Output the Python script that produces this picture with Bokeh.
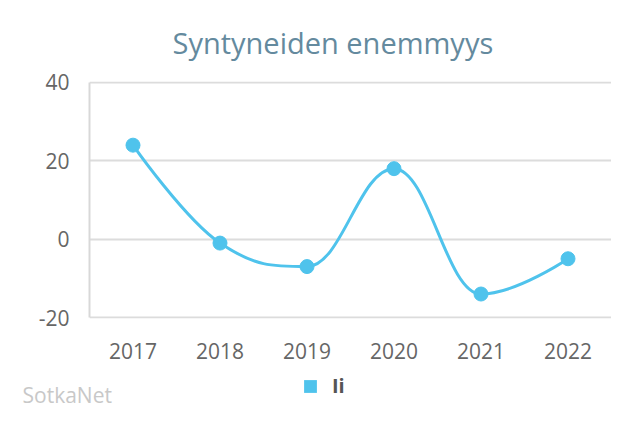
from bokeh.plotting import figure
from bokeh.layouts import column
from bokeh.models import Range1d, FixedTicker, Label, Legend, LegendItem
from bokeh.embed import file_html
from bokeh.resources import INLINE

years = ["2017", "2018", "2019", "2020", "2021", "2022"]
values = [24, -1, -7, 18, -14, -5]
y_ticks = [-20, 0, 20, 40]
series_name = "Ii"
title_text = "Syntyneiden enemmyys"
credit_text = "SotkaNet"

LINE = "#4fc3ec"
FONT = "Open Sans"

xs = list(range(len(years)))


def spline_controls(x, y, smoothing=1.5):
    denom = smoothing + 1
    n = len(x)
    rc = [None] * n
    lc = [None] * n
    for i in range(1, n - 1):
        px, py = x[i], y[i]
        lx, ly = x[i - 1], y[i - 1]
        nx, ny = x[i + 1], y[i + 1]
        lcx = (smoothing * px + lx) / denom
        lcy = (smoothing * py + ly) / denom
        rcx = (smoothing * px + nx) / denom
        rcy = (smoothing * py + ny) / denom
        corr = 0
        if rcx != lcx:
            corr = (rcy - lcy) * (rcx - px) / (rcx - lcx) + py - rcy
        lcy += corr
        rcy += corr
        if lcy > ly and lcy > py:
            lcy = max(ly, py); rcy = 2 * py - lcy
        elif lcy < ly and lcy < py:
            lcy = min(ly, py); rcy = 2 * py - lcy
        if rcy > ny and rcy > py:
            rcy = max(ny, py); lcy = 2 * py - rcy
        elif rcy < ny and rcy < py:
            rcy = min(ny, py); lcy = 2 * py - rcy
        lc[i] = (lcx, lcy)
        rc[i] = (rcx, rcy)
    segs = dict(x0=[], y0=[], x1=[], y1=[], cx0=[], cy0=[], cx1=[], cy1=[])
    for i in range(1, n):
        a = rc[i - 1] if rc[i - 1] else (x[i - 1], y[i - 1])
        b = lc[i] if lc[i] else (x[i], y[i])
        segs["x0"].append(x[i - 1]); segs["y0"].append(y[i - 1])
        segs["x1"].append(x[i]); segs["y1"].append(y[i])
        segs["cx0"].append(a[0]); segs["cy0"].append(a[1])
        segs["cx1"].append(b[0]); segs["cy1"].append(b[1])
    return segs


# ---------------- main chart ----------------
p = figure(width=611, height=375, output_backend="svg", toolbar_location=None,
           x_range=Range1d(-0.5, len(years) - 0.5),
           y_range=Range1d(-20.25, 40.25),
           min_border_left=89, min_border_right=0, min_border_top=79,
           min_border_bottom=57)
p.outline_line_color = None
p.background_fill_color = "white"
p.border_fill_color = "white"

p.title.text = title_text
p.title.align = "left"
p.title.offset = 83
p.title.standoff = 40
p.title.text_font = FONT
p.title.text_font_size = "29px"
p.title.text_font_style = "normal"
p.title.text_color = "#648a9e"

segs = spline_controls(xs, values)
p.bezier(x0="x0", y0="y0", x1="x1", y1="y1", cx0="cx0", cy0="cy0",
         cx1="cx1", cy1="cy1", source=segs, line_color=LINE, line_width=3)
p.scatter(xs, values, size=14, color=LINE)

p.xaxis.ticker = FixedTicker(ticks=xs)
p.xaxis.major_label_overrides = {i: y for i, y in enumerate(years)}
p.xaxis.axis_line_color = None
p.xaxis.major_tick_line_color = None
p.xaxis.minor_tick_line_color = None
p.xaxis.major_tick_out = 0
p.xaxis.major_label_standoff = 24
p.xaxis.major_label_text_font = FONT
p.xaxis.major_label_text_font_size = "21px"
p.xaxis.major_label_text_color = "#666666"

p.yaxis.ticker = FixedTicker(ticks=y_ticks)
p.yaxis.bounds = (min(y_ticks), max(y_ticks))
p.yaxis.major_label_overrides = {t: str(t) for t in y_ticks}
p.yaxis.axis_line_color = "#d8d8d8"
p.yaxis.axis_line_width = 2
p.yaxis.major_tick_line_color = None
p.yaxis.minor_tick_line_color = None
p.yaxis.major_tick_out = 0
p.yaxis.major_label_standoff = 20
p.yaxis.major_label_text_font = FONT
p.yaxis.major_label_text_font_size = "21px"
p.yaxis.major_label_text_color = "#666666"

p.xgrid.grid_line_color = None
p.ygrid.grid_line_color = "#dcdcdc"
p.ygrid.grid_line_width = 2

# ---------------- legend + credit strip ----------------
lf = figure(width=611, height=56, output_backend="svg", toolbar_location=None,
            x_range=Range1d(0, 1), y_range=Range1d(0, 1),
            x_axis_location=None, y_axis_location=None,
            min_border_left=0, min_border_right=0, min_border_top=0,
            min_border_bottom=0, frame_align=False)
lf.outline_line_color = None
lf.xgrid.grid_line_color = None
lf.ygrid.grid_line_color = None
# zero-size squares that only provide the legend's symbol
sym = lf.rect(x=xs, y=values, width=0, height=0, fill_color=LINE,
              line_color=None)
legend = Legend(items=[LegendItem(label=series_name, renderers=[sym])],
                location=(302, 32), orientation="horizontal",
                glyph_width=16, glyph_height=16, label_standoff=14,
                padding=0, margin=0, spacing=0,
                border_line_color=None, background_fill_alpha=0,
                label_text_font=FONT, label_text_font_size="20px",
                label_text_font_style="bold", label_text_color="#555555",
                label_height=24)
lf.add_layout(legend, "center")
lf.add_layout(Label(x=22, y=37, x_units="screen", y_units="screen",
                    text=credit_text, text_font=FONT, text_font_size="21px",
                    text_color="#c8c8c8", text_align="left",
                    text_baseline="middle"))

layout = column(p, lf, spacing=0)
open("out.html", "w").write(file_html(layout, INLINE))
